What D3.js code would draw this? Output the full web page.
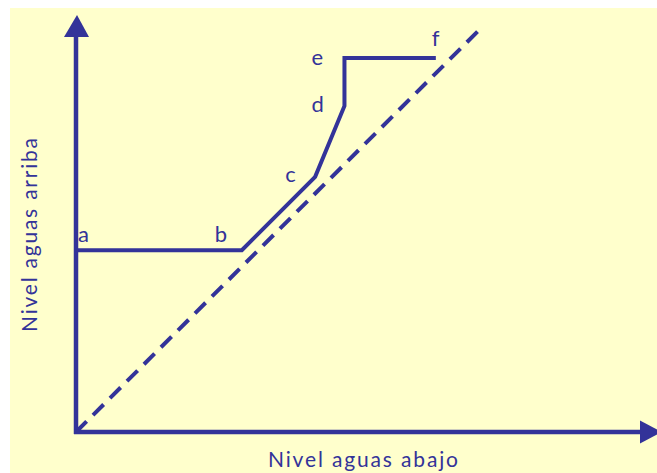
<!DOCTYPE html>
<html>
<head>
<meta charset="utf-8">
<script src="https://cdn.jsdelivr.net/npm/d3@7"></script>
<style>
  body { margin: 0; background: #fff; }
  svg { display: block; }
</style>
</head>
<body>
<script>
var width = 657;
var height = 473;

// datos (unidades del gráfico, 0-100)
var puntos = ["a", "b", "c", "d", "e", "f"];
var nivelAbajo = [0, 29.4, 42.4, 47.6, 47.6, 63.8];
var nivelArriba = [43.6, 43.6, 61.2, 78.2, 89.7, 89.7];
var diagonalX = [0, 72.0];
var diagonalY = [0, 97.1];
var tituloX = "Nivel aguas abajo";
var tituloY = "Nivel aguas arriba";

var azul = "#333399";
var fondo = "#FFFFCC";

var svg = d3.select("body")
  .append("svg")
  .attr("width", width)
  .attr("height", height);

// fondo amarillo
svg.append("rect")
  .attr("x", 10).attr("y", 8)
  .attr("width", width - 10).attr("height", height - 8)
  .attr("fill", fondo);

var x = d3.scaleLinear().domain([0, 100]).range([76, 640]);
var y = d3.scaleLinear().domain([0, 100]).range([432, 15]);

// línea discontinua
var diag = diagonalX.map(function (d, i) { return [d, diagonalY[i]]; });
svg.append("path")
  .datum(diag)
  .attr("d", d3.line().x(function (d) { return x(d[0]); }).y(function (d) { return y(d[1]); }))
  .attr("fill", "none")
  .attr("stroke", azul)
  .attr("stroke-width", 4)
  .attr("stroke-dasharray", "15,9");

// línea continua a-b-c-d-e-f
var datos = puntos.map(function (p, i) { return { p: p, x: nivelAbajo[i], y: nivelArriba[i] }; });
svg.append("path")
  .datum(datos)
  .attr("d", d3.line().x(function (d) { return x(d.x); }).y(function (d) { return y(d.y); }))
  .attr("fill", "none")
  .attr("stroke", azul)
  .attr("stroke-width", 4)
  .attr("stroke-linejoin", "miter");

// ejes
var x0 = x(0), y0 = y(0);
svg.append("line")
  .attr("x1", x0).attr("y1", y0 + 2).attr("x2", x0).attr("y2", y(100) + 20)
  .attr("stroke", azul).attr("stroke-width", 4.5);
svg.append("line")
  .attr("x1", x0 - 2).attr("y1", y0).attr("x2", x(100) + 2).attr("y2", y0)
  .attr("stroke", azul).attr("stroke-width", 4.5);

// flechas
svg.append("path")
  .attr("d", "M" + (x0 - 12) + "," + (y(100) + 22) + "L" + (x0 + 1) + "," + y(100) + "L" + (x0 + 13) + "," + (y(100) + 22) + "Z")
  .attr("fill", azul);
svg.append("path")
  .attr("d", "M" + x(100) + "," + (y0 - 11.5) + "L" + (x(100) + 22) + "," + y0 + "L" + x(100) + "," + (y0 + 11.5) + "Z")
  .attr("fill", azul);

// etiquetas de los puntos
var desplaza = {
  a: [2, -8], b: [-27, -8], c: [-30, 5], d: [-33, 6], e: [-33, 7], f: [-4, -12]
};
svg.selectAll(".etiqueta")
  .data(datos)
  .enter()
  .append("text")
  .attr("class", "etiqueta")
  .attr("x", function (d) { return x(d.x) + desplaza[d.p][0]; })
  .attr("y", function (d) { return y(d.y) + desplaza[d.p][1]; })
  .attr("font-family", "Lato, 'DejaVu Sans', sans-serif")
  .attr("font-size", 22)
  .attr("fill", azul)
  .text(function (d) { return d.p; });

// títulos
svg.append("text")
  .attr("x", 363)
  .attr("y", 467)
  .attr("text-anchor", "middle")
  .attr("font-family", "Lato, 'DejaVu Sans', sans-serif")
  .attr("font-size", 21)
  .attr("textLength", 190)
  .attr("fill", azul)
  .text(tituloX);

svg.append("text")
  .attr("transform", "translate(37,235) rotate(-90)")
  .attr("text-anchor", "middle")
  .attr("font-family", "Lato, 'DejaVu Sans', sans-serif")
  .attr("font-size", 21)
  .attr("textLength", 194)
  .attr("fill", azul)
  .text(tituloY);
</script>
</body>
</html>
